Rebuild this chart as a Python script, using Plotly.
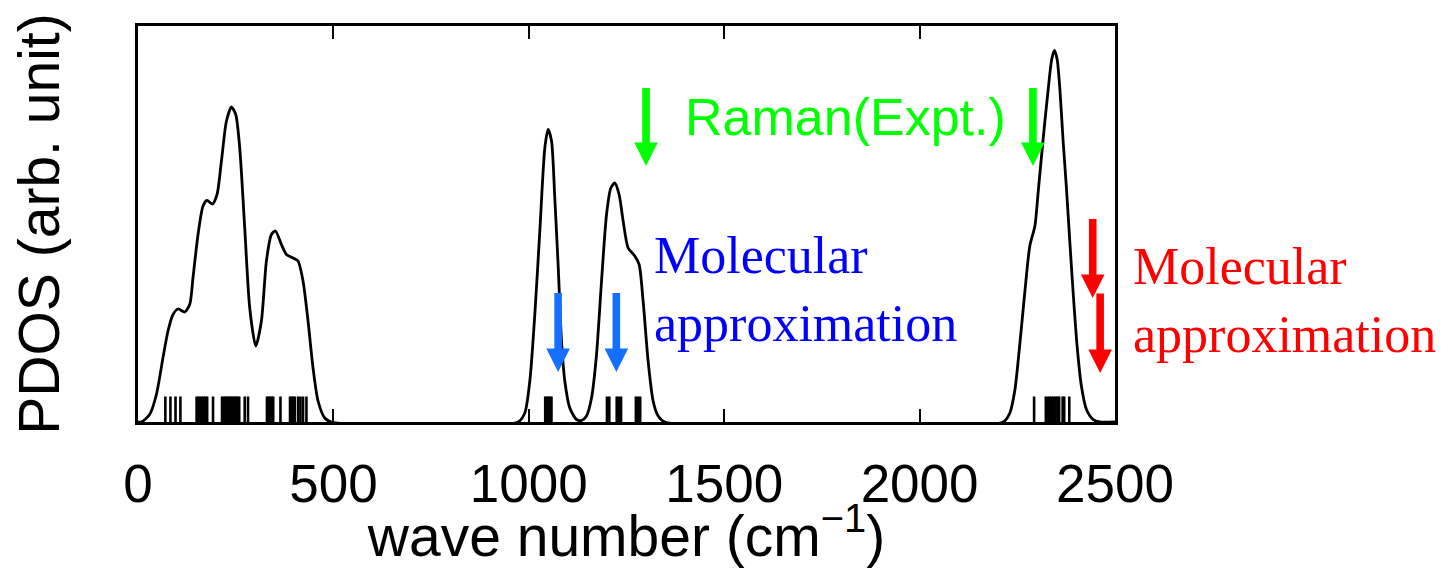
import plotly.graph_objects as go

# ---------------- data ----------------
# PDOS curve (wave number in cm^-1, intensity in arbitrary units)
pdos_x = [0, 8.7, 29.9, 47.1, 64.0, 76.8, 89.6, 102.4, 119.5, 132.3, 140.8, 153.6, 166.4, 176.6,
          190.4, 202.2, 213.5, 226.3, 239.1, 250.1, 260.3, 273.1, 285.9, 301.3, 315.8, 328.6,
          341.4, 351.7, 367.0, 379.8, 396.7, 409.5, 422.3, 435.1, 447.9, 460.7, 477.9, 495.0,
          972.6, 989.8, 1002.6, 1015.4, 1028.2, 1041.0, 1049.4, 1058.1, 1066.5, 1075.0, 1083.7,
          1092.1, 1104.9, 1122.0, 1134.9, 1147.7, 1160.5, 1173.3, 1186.1, 1198.9, 1209.9, 1220.1,
          1231.1, 1241.4, 1254.2, 1271.3, 1282.3, 1292.5, 1305.3, 1318.1, 1330.9, 1348.0,
          2214, 2231, 2244, 2256, 2269, 2282, 2295, 2304, 2316, 2329, 2338, 2345, 2352, 2359,
          2367, 2376, 2384, 2393, 2403, 2414, 2427, 2444, 2461, 2500]
pdos_y = [0, 0, 7.5, 27.5, 64.5, 91, 107.5, 113, 110, 117.5, 144.5, 187.5, 216, 221.5,
          218, 227.5, 261, 301, 315, 307.5, 274, 194, 114, 76, 101, 161,
          187.5, 191, 177.5, 167.5, 164, 161, 141, 101, 54, 21, 4, 0,
          0, 9, 41, 107.5, 191, 274, 292.5, 281, 224, 157.5, 81,
          41, 14, 2.5, 1.5, 6, 24, 67.5, 141, 207.5, 234, 239,
          227.5, 201, 174, 166, 157.5, 121, 61, 21, 6, 0,
          0, 9, 32.5, 76, 129, 176, 196, 232.5, 282.5, 332.5, 362.5, 371.5, 362.5, 332.5,
          282.5, 232.5, 182.5, 129, 76, 36, 12.5, 2.5, 0, 0]

# calculated vibrational modes (stick spectrum)
modes = [70, 83, 96, 108.5, 150, 154, 158, 163, 168, 172, 177, 192,
         215, 219, 223, 227, 231, 235, 239, 243, 247, 251, 255, 259, 273, 281.5,
         330, 334, 338, 342, 346, 364.5, 389, 393, 397, 401, 409.5, 415.6, 422.3, 431,
         1042, 1046, 1050, 1054, 1058, 1200, 1206, 1225, 1230, 1236, 1274, 1279, 1285,
         2293, 2323, 2328, 2333, 2338, 2343, 2348, 2353, 2357, 2366, 2370, 2383]
stick_height = 25.5

# arrows: position (cm^-1), tail height, tip height
green_x = [1300, 2290]
green_top = [334, 334]
green_tip = [256, 256]
blue_x = [1075, 1224]
blue_top = [129, 129]
blue_tip = [50, 50]
red_x = [2443, 2462]
red_top = [203, 128.5]
red_tip = [124, 49]

x_ticks = [0, 500, 1000, 1500, 2000, 2500]

# ---------------- layout geometry ----------------
W, H = 1447, 568
ML, MR, MT, MB = 138, 332, 26, 146
XMAX = 2500
YMAX = 396
px_per_x = (W - ML - MR) / XMAX
px_per_y = (H - MT - MB) / YMAX

STEM_HW = 3.8   # px
HEAD_HW = 11.8  # px
HEAD_LEN = 23.5  # px


def arrow_polys(xs, tops, tips):
    px, py = [], []
    for x, t, b in zip(xs, tops, tips):
        sw = STEM_HW / px_per_x
        hw = HEAD_HW / px_per_x
        hl = HEAD_LEN / px_per_y
        px += [x - sw, x + sw, x + sw, x + hw, x, x - hw, x - sw, x - sw, None]
        py += [t, t, b + hl, b + hl, b, b + hl, b + hl, t, None]
    return px, py


stick_x, stick_y = [], []
for m in modes:
    stick_x += [m, m, None]
    stick_y += [0, stick_height, None]

fig = go.Figure()
fig.add_trace(go.Scatter(x=pdos_x, y=pdos_y, mode="lines",
                         line=dict(color="black", width=2.8, shape="spline", smoothing=0.7),
                         hoverinfo="skip", showlegend=False))
fig.add_trace(go.Scatter(x=stick_x, y=stick_y, mode="lines",
                         line=dict(color="black", width=2.6), hoverinfo="skip", showlegend=False))

for xs, tops, tips, col in [(green_x, green_top, green_tip, "#00FF00"),
                            (blue_x, blue_top, blue_tip, "#1670FF"),
                            (red_x, red_top, red_tip, "#FF0000")]:
    ax_, ay_ = arrow_polys(xs, tops, tips)
    fig.add_trace(go.Scatter(x=ax_, y=ay_, mode="lines", fill="toself", fillcolor=col,
                             line=dict(width=0, color=col), hoverinfo="skip", showlegend=False))

fig.add_annotation(x=1811, y=305, text="Raman(Expt.)", showarrow=False,
                   font=dict(family="Liberation Sans, Arial", size=52, color="#00FF00"),
                   xanchor="center", yanchor="middle")
fig.add_annotation(x=1314, y=133, text="Molecular<br>approximation", showarrow=False,
                   font=dict(family="Liberation Serif, Times New Roman", size=52, color="#0000FF"),
                   xanchor="left", yanchor="middle", align="left")
fig.add_annotation(xref="paper", x=(1131 - ML) / (W - ML - MR), y=122,
                   text="Molecular<br>approximation", showarrow=False,
                   font=dict(family="Liberation Serif, Times New Roman", size=52, color="#FF0000"),
                   xanchor="left", yanchor="middle", align="left")

fig.update_layout(
    width=W, height=H,
    margin=dict(l=ML, r=MR, t=MT, b=MB),
    paper_bgcolor="white", plot_bgcolor="white",
    font=dict(family="Liberation Sans, Arial", color="black"),
    xaxis=dict(range=[0, XMAX], tickvals=x_ticks, ticktext=[str(v) for v in x_ticks],
               ticks="inside", ticklen=13, tickwidth=2.2, tickcolor="black",
               showline=True, linewidth=2.5, linecolor="black", mirror="ticks",
               showgrid=False, zeroline=False, ticklabelstandoff=14,
               tickfont=dict(size=53, color="black"),
               title=dict(text="wave number (cm<sup>−1</sup>)", font=dict(size=57), standoff=0)),
    yaxis=dict(range=[0, YMAX], showticklabels=False, ticks="",
               showline=True, linewidth=2.5, linecolor="black", mirror=True,
               showgrid=False, zeroline=False,
               title=dict(text="PDOS (arb. unit)", font=dict(size=57), standoff=58)),
)

fig.write_html("out.html")
